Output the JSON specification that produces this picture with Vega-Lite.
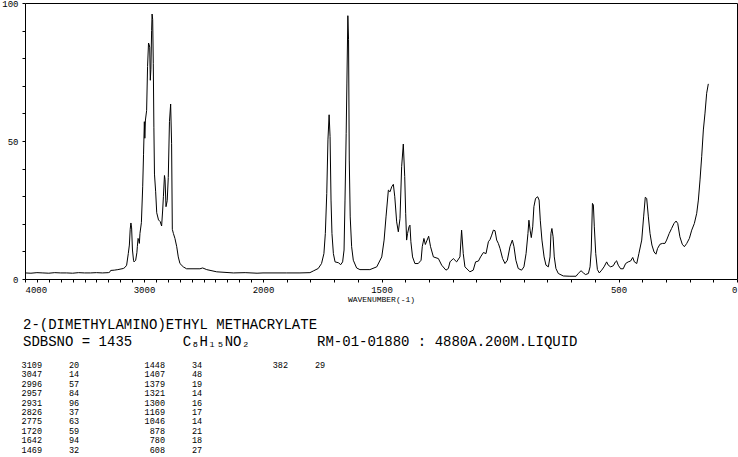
{
  "$schema": "https://vega.github.io/schema/vega-lite/v6.json",
  "width": 712,
  "height": 276,
  "autosize": {"type": "none"},
  "padding": {"left": 25, "top": 3, "right": 1, "bottom": 178},
  "background": "white",
  "config": {
    "view": {"stroke": "black", "strokeWidth": 1},
    "font": "Liberation Mono",
    "text": {"font": "Liberation Mono", "color": "black"}
  },
  "title": {
    "text": ["2-(DIMETHYLAMINO)ETHYL METHACRYLATE", "SDBSNO = 1435\u00a0\u00a0\u00a0\u00a0\u00a0\u00a0C₈H₁₅NO₂\u00a0\u00a0\u00a0\u00a0\u00a0\u00a0\u00a0\u00a0RM-01-01880 : 4880A.200M.LIQUID"],
    "orient": "bottom",
    "anchor": "start",
    "frame": "group",
    "dx": -2,
    "offset": -136,
    "font": "Liberation Mono",
    "fontSize": 14,
    "fontWeight": "normal",
    "lineHeight": 17,
    "color": "black"
  },
  "datasets": {
    "spectrum": [
      {"wn": 4000, "i": 2.2}, {"wn": 3950, "i": 2.1}, {"wn": 3900, "i": 2.3}, {"wn": 3850, "i": 2.2}, {"wn": 3800, "i": 2.1},
      {"wn": 3750, "i": 2.3}, {"wn": 3700, "i": 2.2}, {"wn": 3650, "i": 2.2}, {"wn": 3600, "i": 2.1}, {"wn": 3550, "i": 2.3},
      {"wn": 3500, "i": 2.2}, {"wn": 3450, "i": 2.2}, {"wn": 3400, "i": 2.3}, {"wn": 3350, "i": 2.2}, {"wn": 3300, "i": 2.3},
      {"wn": 3290, "i": 2.4}, {"wn": 3280, "i": 3.1}, {"wn": 3250, "i": 3.2}, {"wn": 3220, "i": 3.4}, {"wn": 3174, "i": 3.8},
      {"wn": 3160, "i": 4.2}, {"wn": 3146, "i": 5.0}, {"wn": 3132, "i": 9.2}, {"wn": 3123, "i": 12.3}, {"wn": 3116, "i": 18},
      {"wn": 3110, "i": 20.3}, {"wn": 3104, "i": 18.5}, {"wn": 3097, "i": 10.5}, {"wn": 3088, "i": 6.8}, {"wn": 3084, "i": 6.2},
      {"wn": 3070, "i": 6.8}, {"wn": 3060, "i": 9.5}, {"wn": 3056, "i": 11.7}, {"wn": 3050, "i": 14.7}, {"wn": 3045, "i": 14.2},
      {"wn": 3039, "i": 12.9}, {"wn": 3034, "i": 16.5}, {"wn": 3022, "i": 20.4}, {"wn": 3011, "i": 33.4}, {"wn": 3004, "i": 45},
      {"wn": 2997, "i": 57}, {"wn": 2993, "i": 51}, {"wn": 2988, "i": 57.6}, {"wn": 2978, "i": 61}, {"wn": 2970, "i": 77},
      {"wn": 2962, "i": 85.5}, {"wn": 2957, "i": 85}, {"wn": 2952, "i": 84}, {"wn": 2947, "i": 72}, {"wn": 2942, "i": 76},
      {"wn": 2936, "i": 90}, {"wn": 2932, "i": 96}, {"wn": 2927, "i": 94}, {"wn": 2922, "i": 78}, {"wn": 2917, "i": 55},
      {"wn": 2912, "i": 38}, {"wn": 2902, "i": 31.6}, {"wn": 2893, "i": 24}, {"wn": 2878, "i": 21.4}, {"wn": 2864, "i": 20.8},
      {"wn": 2852, "i": 19.2}, {"wn": 2843, "i": 25}, {"wn": 2837, "i": 29.8}, {"wn": 2828, "i": 37.5}, {"wn": 2823, "i": 36},
      {"wn": 2815, "i": 26.2}, {"wn": 2805, "i": 28.4}, {"wn": 2796, "i": 36.8}, {"wn": 2786, "i": 57}, {"wn": 2776, "i": 63.4},
      {"wn": 2768, "i": 49}, {"wn": 2762, "i": 18}, {"wn": 2753, "i": 16.5}, {"wn": 2740, "i": 14.7}, {"wn": 2725, "i": 11.7},
      {"wn": 2712, "i": 8.0}, {"wn": 2698, "i": 5.6}, {"wn": 2670, "i": 4.4}, {"wn": 2642, "i": 3.7}, {"wn": 2530, "i": 3.7},
      {"wn": 2507, "i": 4.0}, {"wn": 2473, "i": 3.4}, {"wn": 2389, "i": 2.6}, {"wn": 2249, "i": 2.2}, {"wn": 2150, "i": 2.3},
      {"wn": 2050, "i": 2.1}, {"wn": 2000, "i": 2.2}, {"wn": 1900, "i": 2.2}, {"wn": 1844, "i": 2.2}, {"wn": 1802, "i": 2.3},
      {"wn": 1788, "i": 2.9}, {"wn": 1767, "i": 3.8}, {"wn": 1753, "i": 5.6}, {"wn": 1743, "i": 9.2}, {"wn": 1737, "i": 16.5},
      {"wn": 1731, "i": 31}, {"wn": 1726, "i": 50.4}, {"wn": 1721, "i": 59.5}, {"wn": 1717, "i": 51.6}, {"wn": 1713, "i": 28.6},
      {"wn": 1709, "i": 16.5}, {"wn": 1703, "i": 9.2}, {"wn": 1696, "i": 6.2}, {"wn": 1682, "i": 5.9}, {"wn": 1672, "i": 5.2},
      {"wn": 1664, "i": 6.2}, {"wn": 1658, "i": 10.5}, {"wn": 1654, "i": 28.6}, {"wn": 1649, "i": 52.8}, {"wn": 1646, "i": 71},
      {"wn": 1642, "i": 95.4}, {"wn": 1639, "i": 86.7}, {"wn": 1636, "i": 43.1}, {"wn": 1632, "i": 22.5}, {"wn": 1626, "i": 11.7},
      {"wn": 1619, "i": 6.8}, {"wn": 1605, "i": 4.0}, {"wn": 1591, "i": 3.4}, {"wn": 1549, "i": 3.4}, {"wn": 1520, "i": 4.4},
      {"wn": 1499, "i": 8.0}, {"wn": 1489, "i": 14.1}, {"wn": 1481, "i": 22.5}, {"wn": 1471, "i": 32.2}, {"wn": 1464, "i": 31.6},
      {"wn": 1457, "i": 33.4}, {"wn": 1450, "i": 34.3}, {"wn": 1444, "i": 29.8}, {"wn": 1436, "i": 20.7}, {"wn": 1429, "i": 17.1},
      {"wn": 1422, "i": 21.9}, {"wn": 1415, "i": 40.7}, {"wn": 1408, "i": 48.9}, {"wn": 1402, "i": 37.1}, {"wn": 1398, "i": 23.8},
      {"wn": 1394, "i": 14.1}, {"wn": 1390, "i": 16.5}, {"wn": 1384, "i": 18.9}, {"wn": 1380, "i": 19.5}, {"wn": 1376, "i": 13.5},
      {"wn": 1369, "i": 8.0}, {"wn": 1359, "i": 5.6}, {"wn": 1345, "i": 5.6}, {"wn": 1333, "i": 6.8}, {"wn": 1328, "i": 11.7},
      {"wn": 1321, "i": 14.7}, {"wn": 1315, "i": 12.5}, {"wn": 1309, "i": 13.8}, {"wn": 1301, "i": 15.5}, {"wn": 1293, "i": 11.7},
      {"wn": 1281, "i": 8.0}, {"wn": 1260, "i": 7.4}, {"wn": 1246, "i": 5.0}, {"wn": 1228, "i": 3.2}, {"wn": 1218, "i": 3.8},
      {"wn": 1211, "i": 6.2}, {"wn": 1197, "i": 7.4}, {"wn": 1183, "i": 6.2}, {"wn": 1169, "i": 8.0}, {"wn": 1162, "i": 17.7},
      {"wn": 1155, "i": 9.2}, {"wn": 1148, "i": 4.4}, {"wn": 1127, "i": 2.6}, {"wn": 1113, "i": 3.2}, {"wn": 1103, "i": 6.2},
      {"wn": 1091, "i": 6.5}, {"wn": 1082, "i": 8.0}, {"wn": 1070, "i": 9.6}, {"wn": 1059, "i": 9.2}, {"wn": 1049, "i": 13.5},
      {"wn": 1042, "i": 14.3}, {"wn": 1035, "i": 15.9}, {"wn": 1028, "i": 17.7}, {"wn": 1021, "i": 17.5}, {"wn": 1014, "i": 14.1},
      {"wn": 1007, "i": 12.9}, {"wn": 1000, "i": 11.1}, {"wn": 989, "i": 7.4}, {"wn": 979, "i": 5.6}, {"wn": 969, "i": 6.8},
      {"wn": 958, "i": 11.7}, {"wn": 948, "i": 14.1}, {"wn": 941, "i": 11.7}, {"wn": 933, "i": 6.8}, {"wn": 923, "i": 3.8},
      {"wn": 909, "i": 3.2}, {"wn": 899, "i": 4.4}, {"wn": 890, "i": 9.2}, {"wn": 882, "i": 16.5}, {"wn": 878, "i": 21.3},
      {"wn": 873, "i": 17.7}, {"wn": 868, "i": 15.0}, {"wn": 862, "i": 18.9}, {"wn": 857, "i": 26.2}, {"wn": 850, "i": 29.2},
      {"wn": 841, "i": 29.8}, {"wn": 835, "i": 28.6}, {"wn": 830, "i": 21.3}, {"wn": 823, "i": 14.1}, {"wn": 814, "i": 8.0},
      {"wn": 806, "i": 5.0}, {"wn": 796, "i": 4.4}, {"wn": 789, "i": 8.0}, {"wn": 785, "i": 16.5}, {"wn": 781, "i": 18.3},
      {"wn": 776, "i": 15.3}, {"wn": 771, "i": 8.0}, {"wn": 764, "i": 3.8}, {"wn": 754, "i": 2.0}, {"wn": 733, "i": 1.1},
      {"wn": 705, "i": 1.0}, {"wn": 679, "i": 1.0}, {"wn": 670, "i": 2.0}, {"wn": 658, "i": 3.0}, {"wn": 648, "i": 2.2},
      {"wn": 639, "i": 1.6}, {"wn": 627, "i": 2.0}, {"wn": 620, "i": 4.4}, {"wn": 615, "i": 10.5}, {"wn": 610, "i": 27.4},
      {"wn": 606, "i": 26.8}, {"wn": 602, "i": 18.9}, {"wn": 596, "i": 9.2}, {"wn": 589, "i": 3.4}, {"wn": 581, "i": 2.2},
      {"wn": 571, "i": 3.2}, {"wn": 561, "i": 4.4}, {"wn": 550, "i": 6.2}, {"wn": 543, "i": 5.0}, {"wn": 533, "i": 4.4},
      {"wn": 522, "i": 4.8}, {"wn": 513, "i": 6.2}, {"wn": 508, "i": 6.6}, {"wn": 501, "i": 5.0}, {"wn": 491, "i": 3.7},
      {"wn": 480, "i": 3.7}, {"wn": 470, "i": 5.6}, {"wn": 459, "i": 6.2}, {"wn": 449, "i": 6.5}, {"wn": 440, "i": 7.8},
      {"wn": 433, "i": 6.2}, {"wn": 423, "i": 5.6}, {"wn": 414, "i": 9.2}, {"wn": 402, "i": 14.1}, {"wn": 394, "i": 22.5},
      {"wn": 387, "i": 29.6}, {"wn": 381, "i": 29.2}, {"wn": 374, "i": 22.5}, {"wn": 367, "i": 16.5}, {"wn": 359, "i": 12.3},
      {"wn": 350, "i": 9.8}, {"wn": 342, "i": 9.0}, {"wn": 335, "i": 11.1}, {"wn": 325, "i": 12.6}, {"wn": 314, "i": 12.9},
      {"wn": 304, "i": 12.9}, {"wn": 297, "i": 14.1}, {"wn": 286, "i": 16.5}, {"wn": 276, "i": 18.3}, {"wn": 266, "i": 20.1},
      {"wn": 257, "i": 21.0}, {"wn": 250, "i": 20.1}, {"wn": 241, "i": 15.3}, {"wn": 231, "i": 12.6}, {"wn": 222, "i": 11.7},
      {"wn": 212, "i": 12.9}, {"wn": 201, "i": 14.7}, {"wn": 191, "i": 17.7}, {"wn": 180, "i": 20.1}, {"wn": 170, "i": 23.8},
      {"wn": 163, "i": 28.6}, {"wn": 156, "i": 35.9}, {"wn": 149, "i": 44.3}, {"wn": 142, "i": 54.0}, {"wn": 135, "i": 60.1},
      {"wn": 128, "i": 67.3}, {"wn": 121, "i": 70.7}
    ],
    "peaks": [
      {"c": 1, "r": 1, "wn": "3109", "it": "20"}, {"c": 1, "r": 2, "wn": "3047", "it": "14"},
      {"c": 1, "r": 3, "wn": "2996", "it": "57"}, {"c": 1, "r": 4, "wn": "2957", "it": "84"},
      {"c": 1, "r": 5, "wn": "2931", "it": "96"}, {"c": 1, "r": 6, "wn": "2826", "it": "37"},
      {"c": 1, "r": 7, "wn": "2775", "it": "63"}, {"c": 1, "r": 8, "wn": "1720", "it": "59"},
      {"c": 1, "r": 9, "wn": "1642", "it": "94"}, {"c": 1, "r": 10, "wn": "1469", "it": "32"},
      {"c": 2, "r": 1, "wn": "1448", "it": "34"}, {"c": 2, "r": 2, "wn": "1407", "it": "48"},
      {"c": 2, "r": 3, "wn": "1379", "it": "19"}, {"c": 2, "r": 4, "wn": "1321", "it": "14"},
      {"c": 2, "r": 5, "wn": "1300", "it": "16"}, {"c": 2, "r": 6, "wn": "1169", "it": "17"},
      {"c": 2, "r": 7, "wn": "1046", "it": "14"}, {"c": 2, "r": 8, "wn": "878", "it": "21"},
      {"c": 2, "r": 9, "wn": "780", "it": "18"}, {"c": 2, "r": 10, "wn": "608", "it": "27"},
      {"c": 3, "r": 1, "wn": "382", "it": "29"}
    ]
  },
  "layer": [
    {
      "data": {"name": "spectrum"},
      "mark": {"type": "line", "color": "black", "strokeWidth": 1, "clip": true},
      "encoding": {
        "x": {
          "field": "wn", "type": "quantitative",
          "scale": {"domain": [4000, 2000, 0], "range": [0, 238, 712], "nice": false, "zero": false},
          "axis": {
            "values": [4000,3900,3800,3700,3600,3500,3400,3300,3200,3100,3000,2900,2800,2700,2600,2500,2400,2300,2200,2100,2000,1900,1800,1700,1600,1500,1400,1300,1200,1100,1000,900,800,700,600,500,400,300,200,100,0],
            "labelExpr": "(datum.value == 4000 || datum.value == 3000 || datum.value == 2000 || datum.value == 1500 || datum.value == 500 || datum.value == 0) ? datum.label : ''",
            "format": "d",
            "labelOverlap": false,
            "grid": false,
            "domain": false,
            "tickSize": 3,
            "tickColor": "black",
            "labelColor": "black",
            "labelFont": "Liberation Mono",
            "labelFontSize": 9,
            "labelPadding": 3,
            "title": "WAVENUMBER(-1)",
            "titleFont": "Liberation Mono",
            "titleFontSize": 8,
            "titleFontWeight": "normal",
            "titleColor": "black",
            "titlePadding": 1
          }
        },
        "y": {
          "field": "i", "type": "quantitative",
          "scale": {"domain": [0, 100], "nice": false},
          "axis": {
            "values": [0,10,20,30,40,50,60,70,80,90,100],
            "labelExpr": "(datum.value == 0 || datum.value == 50 || datum.value == 100) ? datum.label : ''",
            "labelOverlap": false,
            "grid": false,
            "domain": false,
            "tickSize": 3,
            "tickColor": "black",
            "labelColor": "black",
            "labelFont": "Liberation Mono",
            "labelFontSize": 9,
            "labelPadding": 4,
            "title": null
          }
        }
      }
    },
    {
      "data": {"name": "peaks"},
      "mark": {"type": "text", "align": "right", "baseline": "middle", "fontSize": 8.5, "font": "Liberation Mono", "color": "black"},
      "encoding": {
        "x": {"field": "c", "type": "quantitative", "scale": {"domain": [1, 3], "range": [17, 263], "nice": false, "zero": false}, "axis": null},
        "y": {"field": "r", "type": "quantitative", "scale": {"domain": [1, 10], "range": [362, 446.5], "nice": false, "zero": false}, "axis": null},
        "text": {"field": "wn"}
      }
    },
    {
      "data": {"name": "peaks"},
      "mark": {"type": "text", "align": "left", "baseline": "middle", "dx": 27, "fontSize": 8.5, "font": "Liberation Mono", "color": "black"},
      "encoding": {
        "x": {"field": "c", "type": "quantitative", "scale": {"domain": [1, 3], "range": [17, 263], "nice": false, "zero": false}, "axis": null},
        "y": {"field": "r", "type": "quantitative", "scale": {"domain": [1, 10], "range": [362, 446.5], "nice": false, "zero": false}, "axis": null},
        "text": {"field": "it"}
      }
    }
  ],
  "resolve": {"scale": {"x": "independent", "y": "independent"}}
}
